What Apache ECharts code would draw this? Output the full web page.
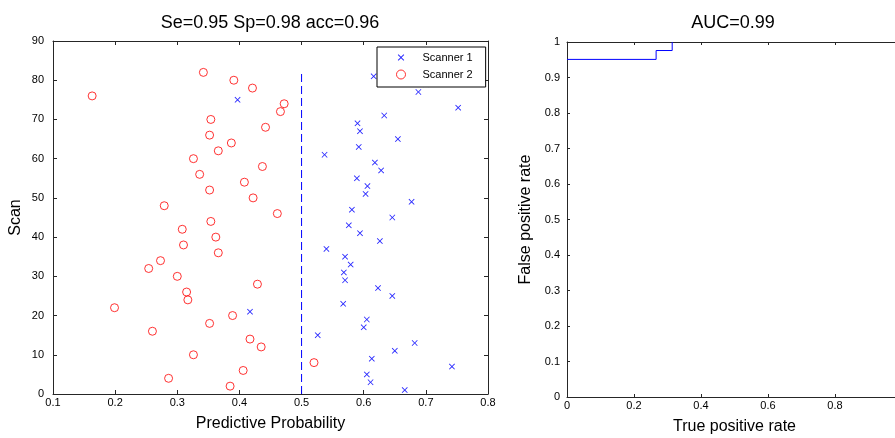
<!DOCTYPE html>
<html>
<head>
<meta charset="utf-8">
<script src="https://cdn.jsdelivr.net/npm/echarts@6/dist/echarts.min.js"></script>
<style>
  html, body { margin: 0; padding: 0; background: #fff; }
  #chart { width: 895px; height: 438px; }
</style>
</head>
<body>
<div id="chart"></div>
<script>
// scanner 1 (blue crosses): predictive probability and scan index
const scanner1X = [0.666, 0.611, 0.605, 0.742, 0.613, 0.650, 0.682, 0.526, 0.600, 0.605,
  0.417, 0.567, 0.646, 0.623, 0.570, 0.568, 0.579, 0.570, 0.540, 0.626,
  0.594, 0.576, 0.646, 0.581, 0.677, 0.603, 0.606, 0.589, 0.628, 0.618,
  0.537, 0.592, 0.655, 0.594, 0.590, 0.633, 0.752, 0.397, 0.688, 0.700, 0.616];
const scanner1Y = [1, 3, 5, 7, 9, 11, 13, 15, 17, 19,
  21, 23, 25, 27, 29, 31, 33, 35, 37, 39,
  41, 43, 45, 47, 49, 51, 53, 55, 57, 59,
  61, 63, 65, 67, 69, 71, 73, 75, 77, 79, 81];

// scanner 2 (red circles)
const scanner2X = [0.385, 0.286, 0.406, 0.520, 0.326, 0.435, 0.417, 0.260, 0.352, 0.389,
  0.199, 0.317, 0.315, 0.429, 0.300, 0.254, 0.273, 0.366, 0.310, 0.362,
  0.308, 0.354, 0.461, 0.279, 0.422, 0.352, 0.408, 0.336, 0.437, 0.326,
  0.366, 0.387, 0.352, 0.442, 0.354, 0.466, 0.472, 0.163, 0.421, 0.391, 0.342];
const scanner2Y = [2, 4, 6, 8, 10, 12, 14, 16, 18, 20,
  22, 24, 26, 28, 30, 32, 34, 36, 38, 40,
  42, 44, 46, 48, 50, 52, 54, 56, 58, 60,
  62, 64, 66, 68, 70, 72, 74, 76, 78, 80, 82];

// decision threshold line
const thresholdX = [0.5, 0.5];
const thresholdY = [0, 82];

// ROC curve (step points)
const rocX = [0, 0.266, 0.314];
const rocY = [0.951, 0.976, 1];

const crossIcon = 'path://M0,1L1,0L5,4L9,0L10,1L6,5L10,9L9,10L5,6L1,10L0,9L4,5Z';
// same cross with empty room round it, so the legend draws it smaller
const crossLegendIcon = 'path://M-2,-2L-2,-2M12,12L12,12M0,1L1,0L5,4L9,0L10,1L6,5L10,9L9,10L5,6L1,10L0,9L4,5Z';
const axisColor = '#262626';
const font = 'Liberation Sans, Arial, sans-serif';

const zip = (xs, ys) => xs.map((x, i) => [x, ys[i]]);

const valueAxis = (extra) => Object.assign({
  type: 'value',
  axisLine: { show: true, onZero: false, lineStyle: { color: axisColor, width: 1 } },
  axisTick: { show: true, inside: true, length: 4, lineStyle: { color: axisColor } },
  axisLabel: { color: '#000', fontSize: 11, fontFamily: font },
  splitLine: { show: false },
  nameTextStyle: { color: '#000', fontSize: 16, fontFamily: font },
}, extra);

const mirror = (extra) => valueAxis(Object.assign({ axisLabel: { show: false } }, extra));

const option = {
  animation: false,
  backgroundColor: '#fff',
  title: [
    {
      text: 'Se=0.95 Sp=0.98 acc=0.96',
      left: 270, top: 14, padding: 0, textAlign: 'center',
      textStyle: { fontSize: 18, fontWeight: 'normal', color: '#000', fontFamily: font },
    },
    {
      text: 'AUC=0.99',
      left: 733, top: 14, padding: 0, textAlign: 'center',
      textStyle: { fontSize: 18, fontWeight: 'normal', color: '#000', fontFamily: font },
    },
  ],
  legend: {
    orient: 'vertical',
    left: 377,
    top: 47,
    padding: [5, 13, 7, 19],
    itemWidth: 9,
    itemHeight: 9,
    itemGap: 6,
    backgroundColor: '#fff',
    borderColor: '#000',
    borderWidth: 1,
    borderRadius: 0,
    selectedMode: false,
    textStyle: { fontSize: 11, color: '#000', fontFamily: font, padding: [0, 0, 0, 12] },
    data: [
      { name: 'Scanner 1', icon: crossLegendIcon, itemStyle: { color: '#0000ff' } },
      { name: 'Scanner 2', icon: 'circle', itemStyle: { color: 'rgba(0,0,0,0)', borderColor: '#ff0000', borderWidth: 1 } },
    ],
  },
  grid: [
    { left: 53, right: 407, top: 41, bottom: 44, outerBoundsMode: 'none' },
    { left: 567, right: -7, top: 42, bottom: 41, outerBoundsMode: 'none' },
  ],
  xAxis: [
    valueAxis({
      gridIndex: 0, min: 0.1, max: 0.8, interval: 0.1,
      name: 'Predictive Probability', nameLocation: 'middle', nameGap: 22,
      axisLabel: { color: '#000', fontSize: 11, fontFamily: font, margin: 3 },
    }),
    mirror({ gridIndex: 0, position: 'top', min: 0.1, max: 0.8, interval: 0.1 }),
    valueAxis({
      gridIndex: 1, min: 0, max: 1, interval: 0.2,
      name: 'True positive rate', nameLocation: 'middle', nameGap: 22,
      axisTick: { show: true, inside: true, length: 3, lineStyle: { color: axisColor } },
      axisLabel: { color: '#000', fontSize: 11, fontFamily: font, margin: 3 },
    }),
    mirror({
      gridIndex: 1, position: 'top', min: 0, max: 1, interval: 0.2,
      axisTick: { show: true, inside: true, length: 3, lineStyle: { color: axisColor } },
    }),
  ],
  yAxis: [
    valueAxis({
      gridIndex: 0, min: 0, max: 90, interval: 10,
      name: 'Scan', nameLocation: 'middle', nameGap: 29,
      axisLabel: { color: '#000', fontSize: 11, fontFamily: font, margin: 9 },
    }),
    mirror({ gridIndex: 0, position: 'right', min: 0, max: 90, interval: 10 }),
    valueAxis({
      gridIndex: 1, min: 0, max: 1, interval: 0.1,
      name: 'False positive rate', nameLocation: 'middle', nameGap: 33,
      axisTick: { show: true, inside: true, length: 3, lineStyle: { color: axisColor } },
      axisLabel: { color: '#000', fontSize: 11, fontFamily: font, margin: 7 },
    }),
    mirror({
      gridIndex: 1, position: 'right', min: 0, max: 1, interval: 0.1,
      axisTick: { show: true, inside: true, length: 3, lineStyle: { color: axisColor } },
    }),
  ],
  series: [
    {
      name: 'Scanner 1',
      type: 'scatter',
      xAxisIndex: 0, yAxisIndex: 0,
      symbol: crossIcon,
      symbolSize: 6,
      itemStyle: { color: '#0000ff', opacity: 0.85 },
      data: zip(scanner1X, scanner1Y),
    },
    {
      name: 'Scanner 2',
      type: 'scatter',
      xAxisIndex: 0, yAxisIndex: 0,
      symbol: 'circle',
      symbolSize: 8,
      itemStyle: { color: 'rgba(0,0,0,0)', borderColor: '#ff0000', borderWidth: 1 },
      data: zip(scanner2X, scanner2Y),
    },
    {
      name: 'threshold',
      type: 'line',
      xAxisIndex: 0, yAxisIndex: 0,
      showSymbol: false,
      symbol: 'none',
      lineStyle: { color: '#0000ff', width: 1, type: [8, 4] },
      data: zip(thresholdX, thresholdY),
    },
    {
      name: 'ROC',
      type: 'line',
      xAxisIndex: 2, yAxisIndex: 2,
      step: 'end',
      symbol: 'none',
      lineStyle: { color: '#0000ff', width: 1 },
      data: zip(rocX, rocY),
    },
  ],
};

const chart = echarts.init(document.getElementById('chart'));
chart.setOption(option);
</script>
</body>
</html>
